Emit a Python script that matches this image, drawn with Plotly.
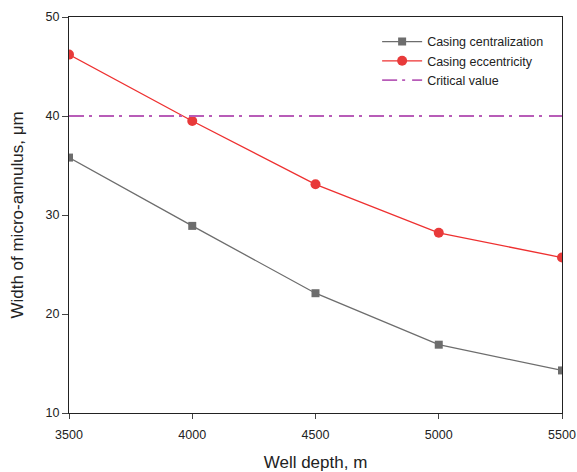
import plotly.graph_objects as go

depth = [3500, 4000, 4500, 5000, 5500]
centralization = [35.8, 28.9, 22.1, 16.9, 14.3]
eccentricity = [46.2, 39.5, 33.1, 28.2, 25.7]
critical = [40, 40, 40, 40, 40]

FONT = "Liberation Sans, Arial, sans-serif"

fig = go.Figure()
fig.add_trace(go.Scatter(
    x=depth, y=centralization, mode="lines+markers", name="Casing centralization",
    line=dict(color="#6d6d6d", width=1.3),
    marker=dict(symbol="square", size=8, color="#6d6d6d"),
))
fig.add_trace(go.Scatter(
    x=depth, y=eccentricity, mode="lines+markers", name="Casing eccentricity",
    line=dict(color="#ee3030", width=1.3),
    marker=dict(symbol="circle", size=10, color="#e83a3a"),
))
fig.add_trace(go.Scatter(
    x=depth, y=critical, mode="lines", name="Critical value",
    line=dict(color="#b85cb8", width=1.8, dash="15px,5px,3px,7px"),
))

fig.update_layout(
    width=577, height=472,
    margin=dict(l=69, r=15, t=17, b=59),
    paper_bgcolor="white", plot_bgcolor="white",
    font=dict(family=FONT, size=12.5, color="#222"),
    showlegend=True,
    legend=dict(
        x=0.625, y=0.975, xanchor="left", yanchor="top",
        bgcolor="rgba(0,0,0,0)", font=dict(size=12.5, color="#222"),
        itemwidth=40, tracegroupgap=0,
    ),
    xaxis=dict(
        range=[3500, 5500], tickvals=depth, ticks="outside", ticklen=5,
        ticklabelstandoff=5, automargin=False,
        showline=True, linecolor="#222", linewidth=1.3, mirror=True,
        showgrid=False, zeroline=False,
        title=dict(text="Well depth, m", font=dict(size=17), standoff=14),
    ),
    yaxis=dict(
        range=[10, 50], tickvals=[10, 20, 30, 40, 50], ticks="outside", ticklen=6,
        automargin=False,
        showline=True, linecolor="#222", linewidth=1.3, mirror=True,
        showgrid=False, zeroline=False,
        title=dict(text="Width of micro-annulus, μm", font=dict(size=17), standoff=17),
    ),
)

fig.write_html("out.html")
